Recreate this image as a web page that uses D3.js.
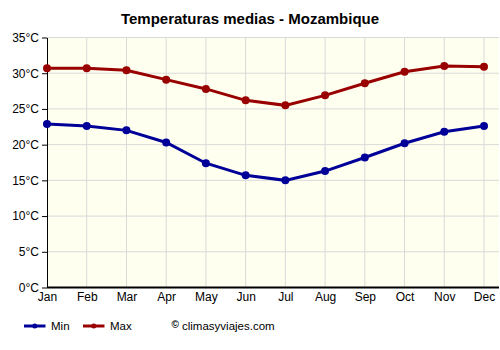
<!DOCTYPE html>
<html>
<head>
<meta charset="utf-8">
<script src="https://cdn.jsdelivr.net/npm/d3@7"></script>
<style>
  body { margin: 0; background: #fff; }
  text { font-family: "Liberation Sans", Arial, sans-serif; }
</style>
</head>
<body>
<svg id="chart" width="500" height="350"></svg>
<script>
// data
const months = ['Jan', 'Feb', 'Mar', 'Apr', 'May', 'Jun', 'Jul', 'Aug', 'Sep', 'Oct', 'Nov', 'Dec'];
const minTemp = [22.9, 22.6, 22.0, 20.3, 17.4, 15.7, 15.0, 16.3, 18.2, 20.2, 21.8, 22.6];
const maxTemp = [30.7, 30.7, 30.4, 29.1, 27.8, 26.2, 25.5, 26.9, 28.6, 30.2, 31.0, 30.9];
const yTicks = [0, 5, 10, 15, 20, 25, 30, 35];

//plot area
const plot = { left: 47, right: 499, top: 37.5, bottom: 287.5 };

const svg = d3.select('#chart');

//scales
const xScale = d3.scaleLinear().domain([0, 11]).range([plot.left, 484]);
const yScale = d3.scaleLinear().domain([0, 35]).range([plot.bottom, plot.top]);

//plot background
svg.append('rect')
  .attr('x', plot.left).attr('y', plot.top)
  .attr('width', plot.right - plot.left).attr('height', plot.bottom - plot.top)
  .attr('fill', '#fffff0');

//grid
svg.append('g')
  .selectAll('line')
  .data(months.slice(1))
  .enter().append('line')
    .attr('x1', (d, i) => xScale(i + 1)).attr('x2', (d, i) => xScale(i + 1))
    .attr('y1', plot.top).attr('y2', plot.bottom)
    .attr('stroke', '#d9d9d9');
svg.append('g')
  .selectAll('line')
  .data(yTicks.slice(1))
  .enter().append('line')
    .attr('x1', plot.left).attr('x2', plot.right)
    .attr('y1', d => yScale(d)).attr('y2', d => yScale(d))
    .attr('stroke', '#d9d9d9');

//y axis
const yAxis = d3.axisLeft(yScale).tickValues(yTicks).tickFormat(d => d + '°C').tickSize(5).tickSizeOuter(0);
svg.append('g')
  .attr('transform', 'translate(' + plot.left + ',0)')
  .call(yAxis)
  .call(g => g.selectAll('text').attr('font-size', 12).attr('fill', '#000').attr('font-family', '"Liberation Sans", Arial, sans-serif'))
  .call(g => g.selectAll('line, path').attr('stroke', '#000'));

//x axis
const xAxis = d3.axisBottom(xScale).tickValues(d3.range(12)).tickFormat(i => months[i]).tickSize(0).tickPadding(5);
svg.append('g')
  .attr('transform', 'translate(0,' + plot.bottom + ')')
  .call(xAxis)
  .call(g => g.select('.domain').remove())
  .call(g => g.selectAll('text').attr('font-size', 12).attr('fill', '#000').attr('font-family', '"Liberation Sans", Arial, sans-serif'));
svg.append('line')
  .attr('x1', plot.left).attr('x2', plot.right)
  .attr('y1', plot.bottom).attr('y2', plot.bottom)
  .attr('stroke', '#000').attr('stroke-width', 2);

//lines
const series = [
  { name: 'Min', values: minTemp, color: '#000099' },
  { name: 'Max', values: maxTemp, color: '#990000' }
];
const line = d3.line()
  .x((d, i) => xScale(i))
  .y(d => yScale(d));

series.forEach(s => {
  svg.append('path')
    .datum(s.values)
    .attr('d', line)
    .attr('fill', 'none')
    .attr('stroke', s.color)
    .attr('stroke-width', 3);
  svg.append('g')
    .selectAll('circle')
    .data(s.values)
    .enter().append('circle')
      .attr('cx', (d, i) => xScale(i))
      .attr('cy', d => yScale(d))
      .attr('r', 4)
      .attr('fill', s.color);
});

//title
svg.append('text')
  .attr('x', 250).attr('y', 24)
  .attr('text-anchor', 'middle')
  .attr('font-size', 15).attr('font-weight', 'bold')
  .text('Temperaturas medias - Mozambique');

//legend
const legend = svg.append('g').attr('transform', 'translate(0,326)');
series.forEach((s, i) => {
  const x0 = 24 + i * 59;
  legend.append('line')
    .attr('x1', x0).attr('x2', x0 + 21.5)
    .attr('stroke', s.color).attr('stroke-width', 3);
  legend.append('circle')
    .attr('cx', x0 + 10.75).attr('r', 2.5).attr('fill', s.color);
  legend.append('text')
    .attr('x', x0 + 27).attr('y', 4)
    .attr('font-size', 11.5)
    .text(s.name);
});
legend.append('text')
  .attr('x', 171.5).attr('y', 1.5)
  .attr('font-size', 10).attr('font-weight', 'bold')
  .text('©');
legend.append('text')
  .attr('x', 182).attr('y', 4)
  .attr('font-size', 11.5)
  .text('climasyviajes.com');
</script>
</body>
</html>
